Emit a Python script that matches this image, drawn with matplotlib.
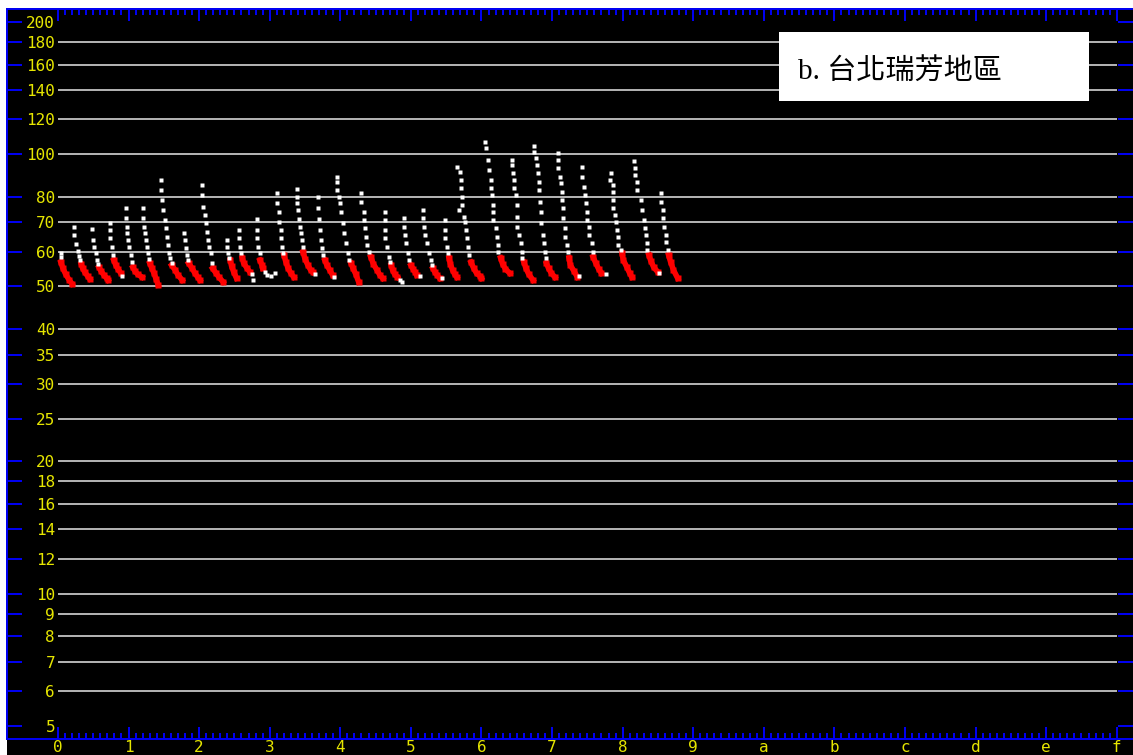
import numpy as np
import matplotlib
matplotlib.use('Agg')
import matplotlib.pyplot as plt
from matplotlib.patches import Rectangle
from matplotlib.ticker import FixedLocator, NullLocator

## y axis labels (log scale) and the levels that get a grid line
ytick_vals = [5, 6, 7, 8, 9, 10, 12, 14, 16, 18, 20, 25, 30, 35, 40, 50, 60, 70, 80, 100, 120, 140, 160, 180, 200]
grid_vals = [6, 7, 8, 9, 10, 12, 14, 16, 18, 20, 25, 30, 35, 40, 50, 60, 70, 80, 100, 120, 140, 160, 180]
xtick_labels = ['0', '1', '2', '3', '4', '5', '6', '7', '8', '9', 'a', 'b', 'c', 'd', 'e', 'f']

## white readings of every recession (x, value)
white_x = [
    [0.04, 0.05],
    [0.23, 0.23, 0.25, 0.28, 0.30, 0.31],
    [0.48, 0.50, 0.51, 0.54, 0.55, 0.57],
    [0.74, 0.74, 0.74, 0.76, 0.78, 0.91],
    [0.96, 0.96, 0.98, 0.98, 0.99, 1.01, 1.03, 1.05],
    [1.20, 1.20, 1.22, 1.23, 1.25, 1.26, 1.27, 1.29],
    [1.46, 1.46, 1.47, 1.49, 1.52, 1.53, 1.54, 1.56, 1.57, 1.59, 1.61],
    [1.78, 1.80, 1.81, 1.83, 1.84],
    [2.04, 2.04, 2.05, 2.08, 2.10, 2.11, 2.12, 2.14, 2.17, 2.18],
    [2.39, 2.39, 2.41, 2.42],
    [2.56, 2.56, 2.58, 2.59, 2.75, 2.76],
    [2.82, 2.82, 2.82, 2.83, 2.86, 2.93, 2.96, 3.02, 3.07],
    [3.10, 3.10, 3.13, 3.13, 3.16, 3.16, 3.17, 3.19],
    [3.38, 3.38, 3.38, 3.40, 3.41, 3.43, 3.44, 3.46, 3.47, 3.64],
    [3.68, 3.68, 3.70, 3.71, 3.72, 3.74, 3.75, 3.91],
    [3.96, 3.96, 3.96, 3.98, 3.99, 4.01, 4.04, 4.05, 4.08, 4.11, 4.12],
    [4.30, 4.30, 4.33, 4.33, 4.35, 4.36, 4.38, 4.40],
    [4.63, 4.63, 4.63, 4.64, 4.66, 4.69, 4.70, 4.84, 4.87],
    [4.90, 4.90, 4.91, 4.93, 4.96, 4.97, 5.13],
    [5.17, 5.17, 5.18, 5.20, 5.23, 5.25, 5.28, 5.30, 5.44],
    [5.48, 5.48, 5.49, 5.51, 5.52],
    [5.66, 5.69, 5.71, 5.71, 5.73, 5.72, 5.68, 5.75, 5.76, 5.78, 5.79, 5.81, 5.83],
    [6.05, 6.07, 6.09, 6.10, 6.13, 6.13, 6.15, 6.16, 6.16, 6.17, 6.20, 6.22, 6.23, 6.24],
    [6.43, 6.43, 6.44, 6.46, 6.46, 6.49, 6.50, 6.50, 6.51, 6.53, 6.56, 6.57, 6.58],
    [6.75, 6.75, 6.77, 6.78, 6.80, 6.81, 6.81, 6.83, 6.84, 6.85, 6.87, 6.88, 6.90, 6.91],
    [7.08, 7.08, 7.09, 7.11, 7.12, 7.14, 7.14, 7.15, 7.16, 7.18, 7.19, 7.21, 7.22, 7.38],
    [7.43, 7.43, 7.45, 7.46, 7.48, 7.49, 7.50, 7.52, 7.53, 7.56, 7.58, 7.76],
    [7.84, 7.82, 7.86, 7.86, 7.87, 7.87, 7.89, 7.90, 7.92, 7.93, 7.94, 7.97],
    [8.16, 8.17, 8.18, 8.20, 8.21, 8.26, 8.28, 8.30, 8.31, 8.33, 8.34, 8.35, 8.51],
    [8.55, 8.55, 8.57, 8.57, 8.58, 8.61, 8.62, 8.64],
]
white_y = [
    [59.6, 58.3],
    [68.3, 65.5, 62.5, 60.2, 58.7, 57.4],
    [67.6, 63.8, 61.5, 59.6, 57.4, 56.2],
    [69.7, 67.2, 64.5, 61.5, 59.0, 52.8],
    [75.5, 71.6, 68.3, 66.2, 63.8, 61.5, 59.0, 56.8],
    [75.5, 71.6, 68.3, 66.2, 63.8, 61.5, 59.6, 57.8],
    [87.4, 82.9, 78.7, 74.7, 70.8, 67.9, 64.8, 62.2, 59.6, 58.1, 56.5],
    [66.2, 63.8, 61.2, 59.0, 57.4],
    [85.1, 80.8, 75.9, 72.8, 69.7, 66.5, 63.8, 61.5, 59.6, 56.5],
    [63.8, 61.5, 59.6, 58.1],
    [67.2, 64.5, 61.5, 59.6, 53.3, 51.7],
    [71.2, 67.2, 64.5, 61.5, 59.6, 53.9, 53.1, 52.8, 53.6],
    [81.6, 77.5, 73.9, 70.1, 67.2, 64.5, 61.5, 59.6],
    [83.4, 80.0, 77.5, 74.7, 71.2, 68.3, 66.2, 63.8, 61.5, 53.3],
    [80.0, 75.5, 71.2, 67.2, 63.8, 61.2, 59.0, 52.5],
    [88.8, 86.5, 82.9, 80.0, 77.5, 73.9, 69.7, 66.2, 62.8, 59.6, 57.4],
    [81.6, 77.9, 73.9, 70.8, 67.9, 64.8, 62.2, 59.9],
    [73.9, 70.8, 67.2, 64.5, 61.5, 58.4, 56.8, 51.7, 51.2],
    [71.6, 68.3, 65.5, 62.8, 59.6, 57.4, 52.8],
    [74.7, 71.6, 68.3, 65.5, 62.8, 59.6, 57.4, 55.9, 52.2],
    [70.8, 67.2, 64.5, 61.5, 59.6],
    [93.6, 91.2, 87.4, 83.8, 80.0, 76.7, 74.7, 72.0, 70.1, 67.2, 64.5, 61.5, 59.0],
    [106.6, 103.3, 97.0, 92.1, 87.4, 83.8, 80.8, 76.7, 73.9, 70.8, 67.9, 64.8, 62.2, 59.9],
    [97.0, 94.5, 90.7, 87.4, 83.8, 80.8, 76.7, 72.0, 68.3, 65.5, 62.8, 59.9, 58.1],
    [104.4, 101.2, 98.0, 94.5, 90.7, 86.5, 82.9, 77.9, 73.9, 69.7, 65.5, 62.8, 59.9, 58.1],
    [100.6, 97.0, 93.1, 88.8, 86.0, 82.1, 78.7, 75.5, 71.6, 67.9, 64.8, 62.2, 59.9, 52.8],
    [93.6, 88.8, 84.3, 80.8, 77.5, 73.9, 70.8, 68.3, 65.5, 62.8, 59.9, 53.3],
    [90.7, 87.4, 85.1, 82.1, 78.7, 75.5, 72.8, 70.1, 67.2, 64.8, 62.2, 60.5],
    [96.5, 93.1, 89.8, 86.5, 82.9, 78.7, 74.7, 70.8, 67.9, 65.5, 62.8, 60.5, 53.6],
    [81.6, 77.9, 74.7, 71.6, 68.3, 65.5, 63.1, 60.5],
]

## red tail of every recession (x, value)
red_x = [
    [0.04, 0.07, 0.11, 0.16, 0.20],
    [0.33, 0.35, 0.38, 0.42, 0.45],
    [0.58, 0.61, 0.65, 0.69, 0.71],
    [0.79, 0.82, 0.85, 0.89],
    [1.06, 1.09, 1.13, 1.19],
    [1.30, 1.33, 1.36, 1.39, 1.42],
    [1.61, 1.66, 1.70, 1.76],
    [1.85, 1.90, 1.94, 1.98, 2.01],
    [2.19, 2.24, 2.28, 2.34],
    [2.44, 2.46, 2.49, 2.53],
    [2.61, 2.63, 2.68, 2.72],
    [2.86, 2.89, 2.90],
    [3.20, 3.23, 3.26, 3.30, 3.34],
    [3.47, 3.50, 3.54, 3.58, 3.61],
    [3.78, 3.81, 3.85, 3.89],
    [4.15, 4.18, 4.22, 4.26],
    [4.43, 4.47, 4.52, 4.56, 4.60],
    [4.72, 4.74, 4.77, 4.81],
    [5.00, 5.03, 5.06, 5.08],
    [5.31, 5.34, 5.37, 5.41],
    [5.54, 5.56, 5.59, 5.62, 5.65],
    [5.85, 5.89, 5.93, 5.98, 6.00],
    [6.27, 6.30, 6.34, 6.40],
    [6.60, 6.63, 6.67, 6.73],
    [6.92, 6.95, 6.99, 7.04],
    [7.24, 7.26, 7.31, 7.36],
    [7.58, 7.62, 7.66, 7.70],
    [7.99, 8.01, 8.06, 8.10, 8.13],
    [8.37, 8.40, 8.44, 8.50],
    [8.65, 8.68, 8.72, 8.78],
]
red_y = [
    [56.8, 55.0, 53.3, 51.7, 50.7],
    [56.2, 55.0, 53.9, 52.8, 52.0],
    [55.3, 54.2, 53.1, 52.2, 51.7],
    [57.4, 55.9, 54.8, 53.6],
    [55.3, 54.2, 53.3, 52.5],
    [56.5, 55.0, 53.6, 52.0, 50.4],
    [55.9, 54.5, 53.1, 51.7],
    [56.5, 55.0, 53.6, 52.5, 51.7],
    [55.0, 53.6, 52.5, 51.2],
    [57.4, 55.6, 53.9, 52.2],
    [58.1, 56.5, 55.0, 53.9],
    [57.4, 55.9, 55.0],
    [59.0, 56.8, 55.0, 53.6, 52.5],
    [59.9, 57.8, 55.9, 54.5, 53.9],
    [57.4, 55.9, 54.5, 53.1],
    [56.5, 55.0, 53.3, 51.2],
    [58.4, 56.2, 54.5, 53.1, 52.2],
    [55.9, 54.5, 53.3, 52.5],
    [55.9, 54.8, 53.9, 53.1],
    [55.0, 53.9, 53.1, 52.2],
    [58.1, 56.2, 54.5, 53.3, 52.5],
    [56.8, 55.0, 53.6, 52.8, 52.2],
    [58.1, 56.2, 54.8, 53.6],
    [56.8, 55.0, 53.3, 51.7],
    [56.5, 55.0, 53.6, 52.5],
    [58.1, 55.9, 54.2, 52.5],
    [58.4, 56.5, 54.8, 53.6],
    [59.6, 57.4, 55.3, 53.6, 52.5],
    [59.0, 57.1, 55.3, 53.9],
    [59.0, 56.8, 54.5, 52.2],
]

W, H = 1133, 755
blue = '#0000f0'
yellow = '#e6e600'
px = 72.0 / 100  # one pixel in points

fig = plt.figure(figsize=(W / 100, H / 100), dpi=100, facecolor='white')
# black strip below the axis line where the hex labels sit
fig.patches.append(Rectangle((7 / W, 0), 1 - 7 / W, 16 / H, transform=fig.transFigure,
                             facecolor='black', edgecolor='none', zorder=-1))
ax = fig.add_axes([7 / W, 16 / H, 1126 / W, 730 / H])
ax.set_facecolor('black')

ax.set_yscale('log')
ax.set_ylim(4.67, 214)
ax.set_xlim(-0.722, 15.23)

## grid
ax.hlines(grid_vals, 0, 15, color='#b0b0b0', lw=2 * px, zorder=1)

## data
for i in range(len(white_x)):
    ax.plot(red_x[i], red_y[i], color='#ff0000', lw=5.5 * px, marker='s', ms=5.5 * px,
            mec='none', solid_capstyle='projecting', zorder=3)
    ax.plot(white_x[i], white_y[i], ls='none', color='white', marker='s', ms=5 * px,
            mec='none', zorder=4)

## axes styling
for s in ['left', 'bottom', 'top']:
    ax.spines[s].set_color(blue)
    ax.spines[s].set_linewidth(2 * px)
ax.spines['right'].set_visible(False)

ax.yaxis.set_major_locator(FixedLocator(ytick_vals))
ax.yaxis.set_minor_locator(NullLocator())
ax.set_yticklabels([str(v) for v in ytick_vals])
ax.tick_params(axis='y', which='major', left=True, right=True, direction='in',
               length=15 * px, width=2 * px, color=blue, labelcolor=yellow,
               labelsize=11.5, pad=-48 * px)
for lab in ax.get_yticklabels():
    lab.set_fontfamily('DejaVu Sans Mono')

ax.xaxis.set_major_locator(FixedLocator(np.arange(0, 16)))
ax.xaxis.set_minor_locator(FixedLocator(np.arange(0, 150) / 10.0))
ax.set_xticklabels(xtick_labels)
ax.tick_params(axis='x', which='major', bottom=True, top=True, direction='in',
               length=12 * px, width=2 * px, color=blue, labelcolor=yellow,
               labelsize=11.5, pad=1 * px)
ax.tick_params(axis='x', which='minor', bottom=True, top=True, direction='in',
               length=6 * px, width=2 * px, color=blue)
for lab in ax.get_xticklabels():
    lab.set_fontfamily('DejaVu Sans Mono')

## label box
ax.add_patch(Rectangle((772 / 1126, 638 / 730), 310 / 1126, 69 / 730, transform=ax.transAxes,
                       facecolor='white', edgecolor='none', zorder=6))
ax.text(791 / 1126, 668 / 730, 'b. 台北瑞芳地區', transform=ax.transAxes, ha='left', va='center',
        fontsize=21, color='black', family=['Liberation Serif', 'Noto Sans CJK TC'],
        fontweight='light', zorder=7)

fig.savefig('out.png', dpi=100, facecolor=fig.get_facecolor())
